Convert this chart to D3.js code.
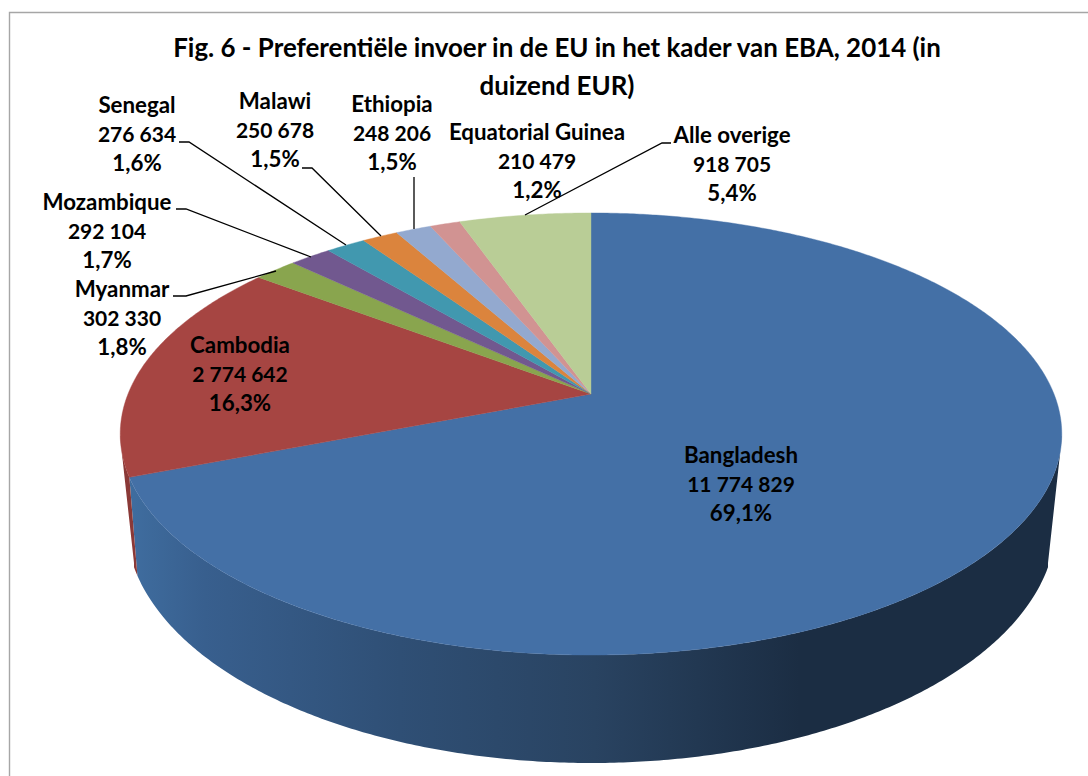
<!DOCTYPE html>
<html><head><meta charset="utf-8">
<script src="https://cdn.jsdelivr.net/npm/d3@7/dist/d3.min.js"></script>
<style>html,body{margin:0;padding:0;background:#fff}svg{display:block}text{font-family:Lato,"Open Sans",sans-serif;font-weight:700;fill:#000}</style>
</head><body><svg id="c" width="1088" height="776"></svg>
<script>
const titleLines = ["Fig. 6 - Preferentiële invoer in de EU in het kader van EBA, 2014 (in", "duizend EUR)"];
const categories = ["Bangladesh","Cambodia","Myanmar","Mozambique","Senegal","Malawi","Ethiopia","Equatorial Guinea","Alle overige"];
const values = [11774829,2774642,302330,292104,276634,250678,248206,210479,918705];
const valueLabels = ["11 774 829","2 774 642","302 330","292 104","276 634","250 678","248 206","210 479","918 705"];
const percentLabels = ["69,1%","16,3%","1,8%","1,7%","1,6%","1,5%","1,5%","1,2%","5,4%"];
const colors = ["#4470a6","#a64542","#89a54e","#71588f","#4198af","#db843d","#93a9cf","#d19392","#b9cd96"];
const wallColors = ["url(#wall)","#8a3937",null,null,null,null,null,null,null];
// label anchor: centre x, first baseline y
const labelX = [741,240,122,107,137,275,392,537,732];
const labelY = [463,353,297,210,113,109,112,140,143];
const leaders = [null,null,
  [[173,296],[186,296],[276,271]],
  [[176,209],[186,209],[311,257]],
  [[179,142],[189,142],[346,245]],
  [[302,168],[312,168],[381,236]],
  [[414,177],[414,229]],
  null,
  [[671,143],[662,143],[525,215]]];

const svg = d3.select("#c");
// perspective projection of the unit disc: top face and bottom face
function projector(cx, y0, c, a, b){
  return t => { const x=Math.sin(t), y=-Math.cos(t), w=1-b*y; return [cx+c*x/w, y0+a*y/w]; };
}
const topP = projector(591,394,463,213.8,0.181);
const botP = projector(591,485.3,459.2,234.1,0.157);
const pie = d3.pie().sort(null).value(d=>d)(values);
const arcPts = (f,a0,a1)=>{const n=Math.max(8,Math.ceil((a1-a0)*120));return d3.range(n+1).map(i=>f(a0+(a1-a0)*i/n));};
const line = d3.line();

const defs = svg.append("defs");
const g = defs.append("linearGradient").attr("id","wall").attr("gradientUnits","userSpaceOnUse")
  .attr("x1",130).attr("x2",1060).attr("y1",0).attr("y2",0);
[[0,"#3f6d9f"],[0.08,"#385f8e"],[0.29,"#2f4f75"],[0.5,"#294361"],[0.72,"#1b2d43"],[1,"#1b2d43"]]
  .forEach(s=>g.append("stop").attr("offset",s[0]).attr("stop-color",s[1]));
defs.append("clipPath").attr("id","wallClip").append("path")
  .attr("d",line([[120,436],[1062,436],[1048,563],[1048,776],[134,776],[134,563]])+"Z");

svg.append("path").attr("d","M9.5,776V12.5H1088").attr("fill","none").attr("stroke","#a6a6a6").attr("stroke-width",1.4);

// only the front of the side wall, between the two silhouette angles
const frontA0 = Math.acos(-0.17), frontA1 = 2*Math.PI - frontA0;
const wallG = svg.append("g").attr("clip-path","url(#wallClip)");
pie.forEach((s,i)=>{
  const a0=Math.max(s.startAngle,frontA0), a1=Math.min(s.endAngle,frontA1);
  if(a1<=a0 || !wallColors[i]) return;
  const pts=arcPts(topP,a0,a1).concat(arcPts(botP,a0,a1).reverse());
  wallG.append("path").attr("d",line(pts)+"Z").attr("fill",wallColors[i]);
});
svg.selectAll("path.top").data(pie).join("path").attr("class","top")
  .attr("fill",(d,i)=>colors[i]).attr("stroke",(d,i)=>colors[i]).attr("stroke-width",0.4)
  .attr("d",d=>line([[591,394]].concat(arcPts(topP,d.startAngle,d.endAngle)))+"Z");

leaders.forEach(l=>{ if(l) svg.append("path").attr("d",line(l)).attr("fill","none").attr("stroke","#000").attr("stroke-width",1.3); });

svg.selectAll("text.title").data(titleLines).join("text").attr("class","title")
  .attr("x",557).attr("y",(d,i)=>57+i*38).attr("text-anchor","middle").attr("font-size",25.9).text(d=>d);

const lineSizes=[22.3,21,22.3];
categories.forEach((c,i)=>{
  const t=svg.append("text").attr("text-anchor","middle");
  [c,valueLabels[i],percentLabels[i]].forEach((s,k)=>t.append("tspan").attr("x",labelX[i]).attr("y",labelY[i]+k*29).attr("font-size",lineSizes[k]).text(s));
});
</script></body></html>
